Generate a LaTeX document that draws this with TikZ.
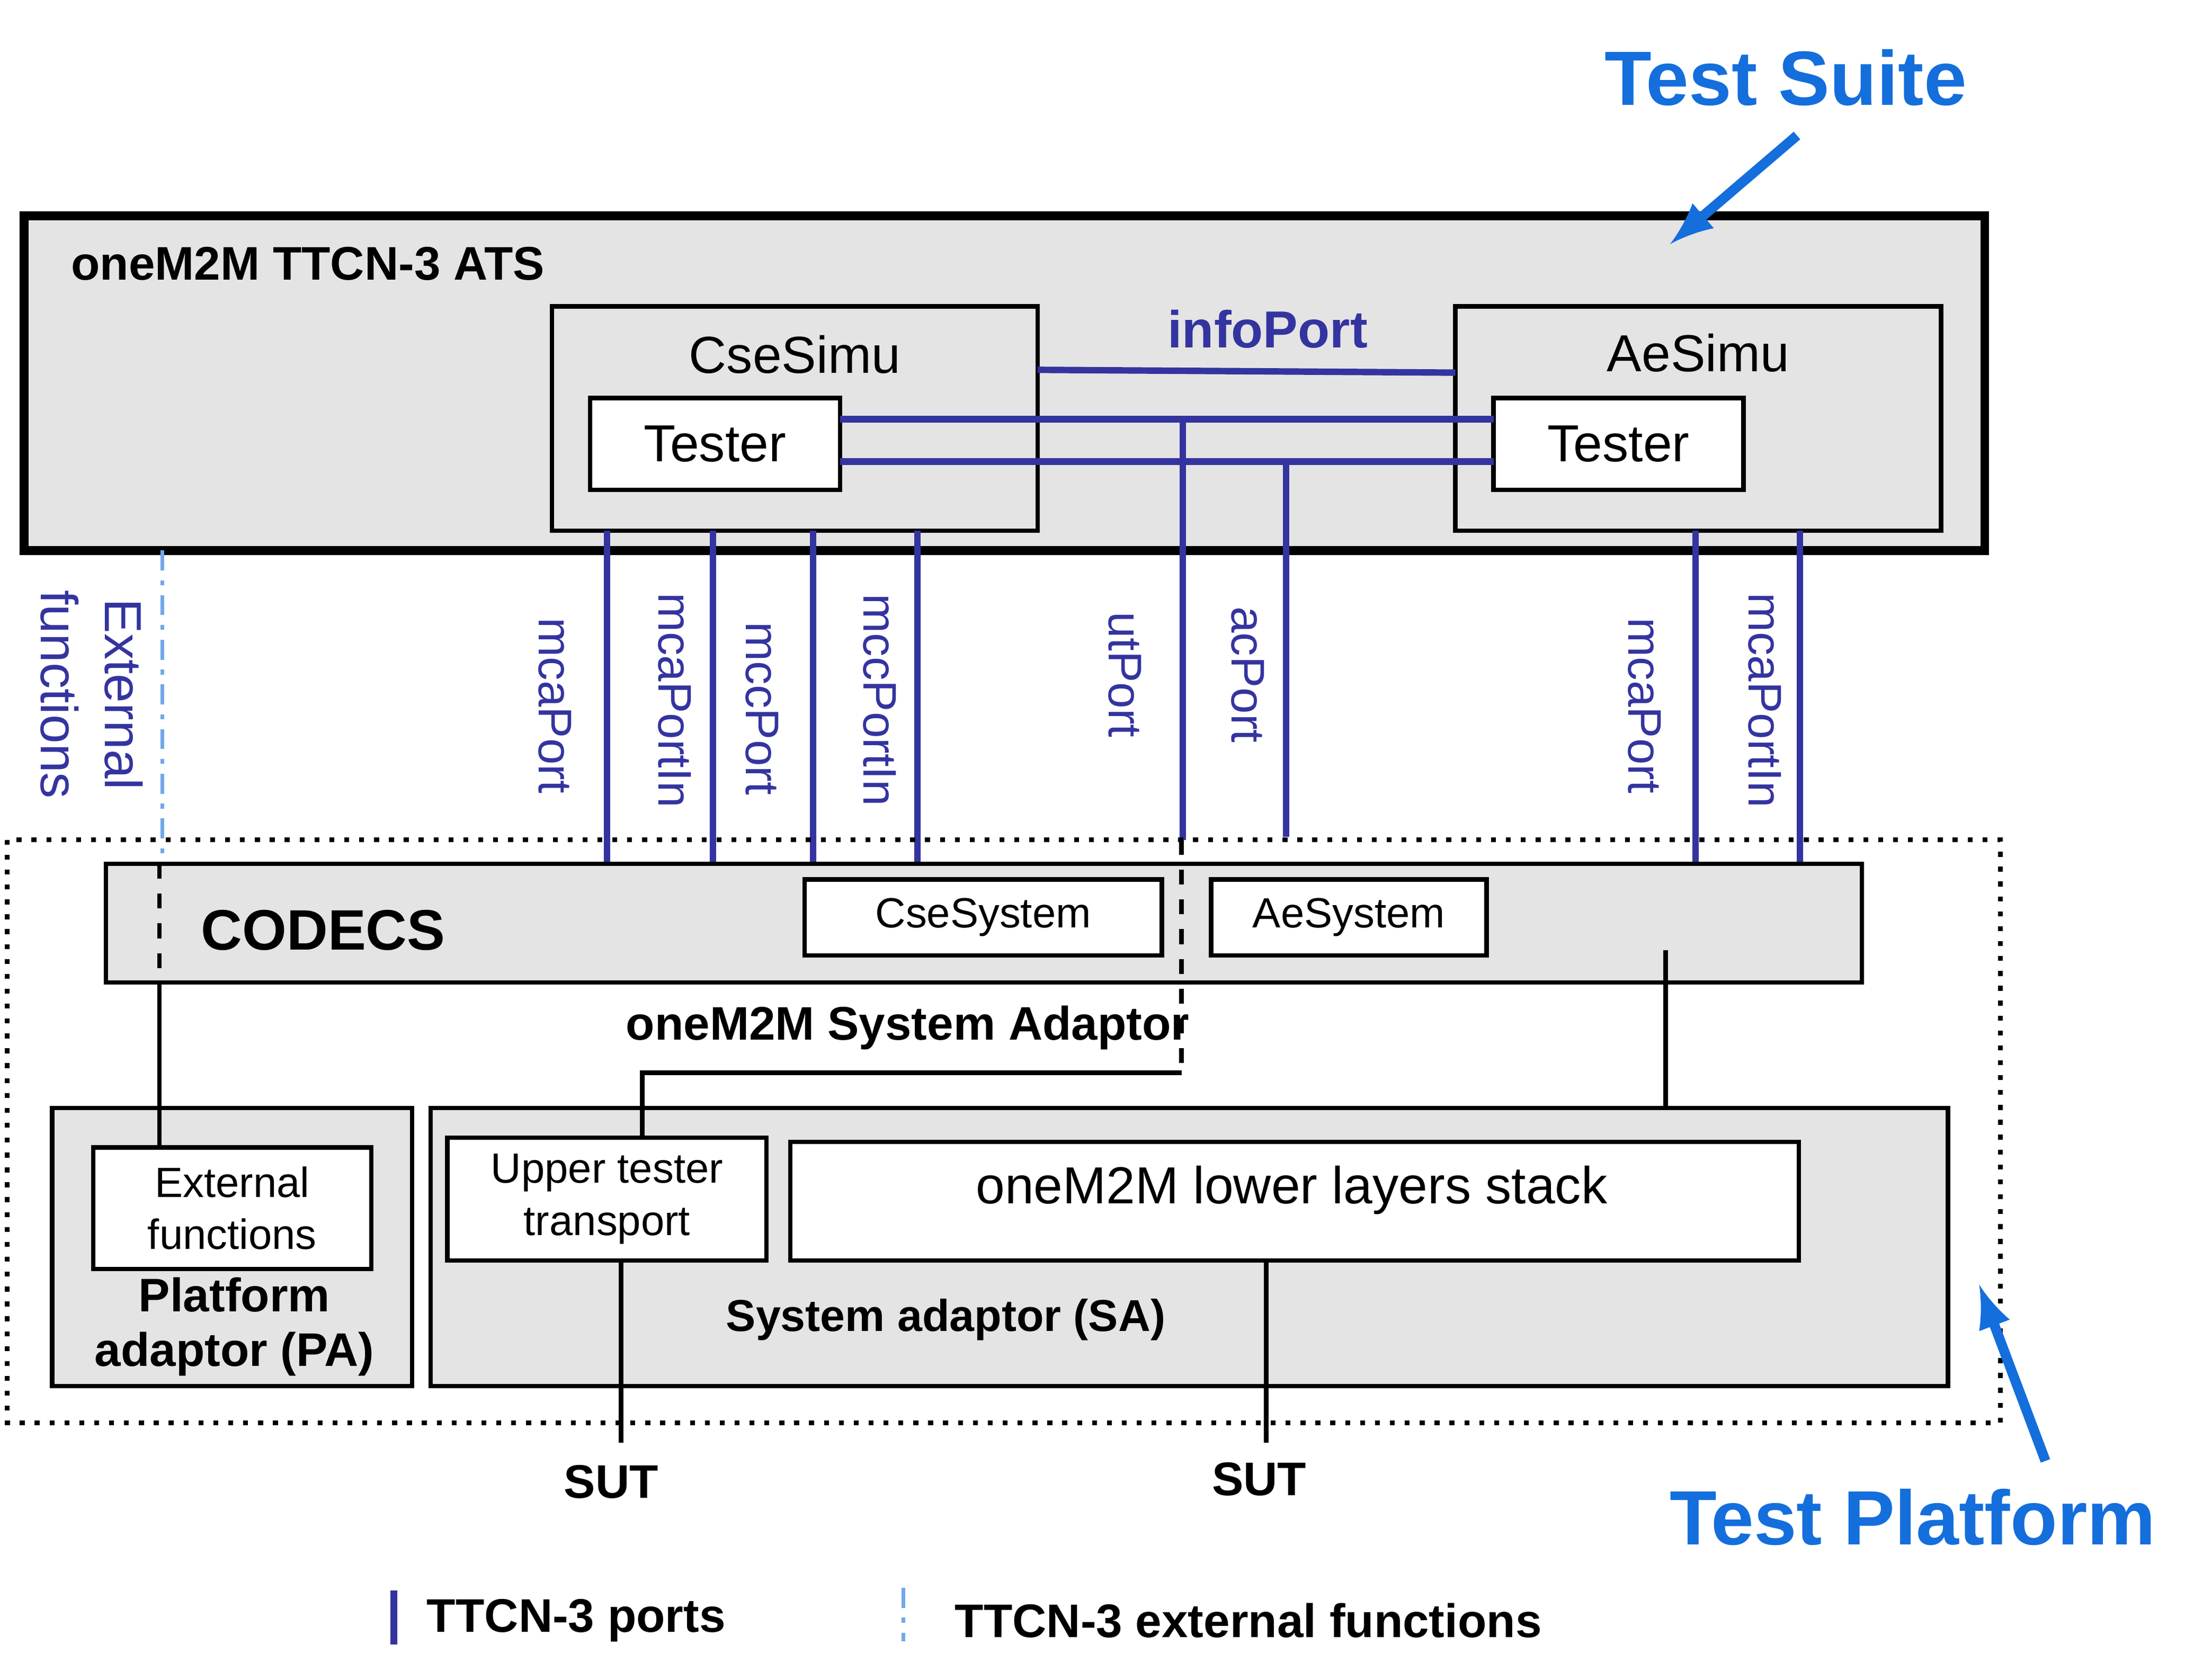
\documentclass[tikz,border=0pt]{standalone}
\usepackage{fontspec}
\setmainfont{Liberation Sans}
\begin{document}
\definecolor{pb}{RGB}{52,52,160}
\definecolor{tb}{RGB}{20,110,220}
\definecolor{gbox}{RGB}{228,228,228}
\begin{tikzpicture}[x=0.01cm,y=-0.01cm,
  gray box/.style={draw=black,fill=gbox,line width=0.9pt},
  white box/.style={draw=black,fill=white,line width=0.9pt},
  port/.style={draw=pb,line width=1.3pt},
  plab/.style={text=pb,font=\fontsize{9.5}{11}\selectfont,rotate=-90},
  bt/.style={font=\bfseries\fontsize{9.5}{11}\selectfont},
  big/.style={text=tb,font=\bfseries\fontsize{15.5}{18}\selectfont},
  barrow/.style={draw=tb,line width=2pt,-{latex}}]
\useasboundingbox (0,0) rectangle (1567,1190);
% ATS
\draw[fill=gbox,line width=1.8pt] (17,153) rectangle (1406,390);
\node[bt,anchor=west] (ats) at (38,187) {oneM2M TTCN-3 ATS};
\draw[gray box] (391,217) rectangle (735,376);
\draw[gray box] (1031,217) rectangle (1375,376);
\node[font=\fontsize{10.5}{12}\selectfont] (csel) at (563,251) {CseSimu};
\node[font=\fontsize{10.5}{12}\selectfont] (ael) at (1203,250) {AeSimu};
\node[white box,minimum width=1.77cm,minimum height=0.65cm,font=\fontsize{10.5}{12}\selectfont] (t1) at (506.5,314.5) {Tester};
\node[white box,minimum width=1.77cm,minimum height=0.65cm,font=\fontsize{10.5}{12}\selectfont] (t2) at (1146.5,314.5) {Tester};
\coordinate (ip1) at (735,262); \coordinate (ip2) at (1031,264);
\draw[port] (ip1) -- (ip2);
\node[text=pb,font=\bfseries\fontsize{10.5}{12}\selectfont] (ipl) at (898,233) {infoPort};
\draw[port] (595,297) -- (1058,297);
\draw[port] (595,327) -- (1058,327);
\draw[port] (838,297) -- (838,595);
\draw[port] (911,327) -- (911,593);
\foreach \x in {430,505,576,650,1201,1275}{\draw[port] (\x,376) -- (\x,612);}
\node[plab] (l1) at (393,500) {mcaPort};
\node[plab] (l2) at (478,496) {mcaPortIn};
\node[plab] (l3) at (540,502) {mccPort};
\node[plab] (l4) at (623,496) {mccPortIn};
\node[plab] (l5) at (797,478) {utPort};
\node[plab] (l6) at (884,478) {acPort};
\node[plab] (l7) at (1165,500) {mcaPort};
\node[plab] (l8) at (1250,496) {mcaPortIn};
\node[plab,align=center,font=\fontsize{10.5}{13}\selectfont] (ef) at (65,492) {External\\functions};
\draw[tb!60,dash pattern=on 4pt off 2pt on 1pt off 2pt,line width=0.8pt] (115,390) -- (115,612);
% platform
\draw[dotted,line width=1pt] (5,595) rectangle (1417,1008);
\draw[gray box] (75,612) rectangle (1319,696);
\node[anchor=west,font=\bfseries\fontsize{11.5}{13}\selectfont] (codecs) at (130,659) {CODECS};
\node[white box,minimum width=2.53cm,minimum height=0.54cm,font=\fontsize{8.5}{10}\selectfont] (cs) at (696.5,650) {CseSystem};
\node[white box,minimum width=1.95cm,minimum height=0.54cm,font=\fontsize{8.5}{10}\selectfont] (as) at (955.5,650) {AeSystem};
\node[bt] (sa1) at (643,728) {oneM2M System Adaptor};
\draw[gray box] (37,785) rectangle (292,982);
\draw[gray box] (305,785) rectangle (1380,982);
\node[white box,minimum width=1.97cm,minimum height=0.86cm,align=center,font=\fontsize{8.5}{10.5}\selectfont] (efb) at (164.5,856) {External\\functions};
\node[bt,align=center] (pa) at (166,940) {Platform\\adaptor (PA)};
\node[white box,minimum width=2.26cm,minimum height=0.87cm,align=center,font=\fontsize{8.5}{10.5}\selectfont] (ut) at (430,849.5) {Upper tester\\transport};
\node[white box,minimum width=7.14cm,minimum height=0.84cm] (ll) at (917,851) {};
\node[font=\fontsize{10.5}{12}\selectfont] (llt) at (915,843) {oneM2M lower layers stack};
\node[font=\bfseries\fontsize{9}{11}\selectfont] (sa) at (670,935) {System adaptor (SA)};
\draw[dashed,line width=0.9pt] (113,612) -- (113,696);
\draw[line width=0.9pt] (113,696) -- (efb.north -| 113,0);
\draw[dashed,line width=0.9pt] (837,595) -- (837,760);
\draw[line width=0.9pt] (837,760) -- (455,760) -- (ut.north -| 455,0);
\draw[line width=0.9pt] (1180,673) -- (1180,785);
\coordinate (s1) at (440,1022); \coordinate (s2) at (897,1022);
\draw[line width=0.9pt] (ut.south -| 440,0) -- (s1);
\draw[line width=0.9pt] (ll.south -| 897,0) -- (s2);
\node[bt] (sut1) at (433,1050) {SUT};
\node[bt] (sut2) at (892,1048) {SUT};
% labels
\node[big] (ts) at (1265,55) {Test Suite};
\draw[barrow] (1273,96) -- (1183,173);
\node[big] (tp) at (1355,1075) {Test Platform};
\draw[barrow] (1449,1035) -- (1402,910);
% legend
\draw[port] (279,1127) -- (279,1165);
\node[bt,anchor=west] (lg1) at (290,1148) {TTCN-3 ports};
\draw[tb!60,dash pattern=on 4pt off 2pt on 1pt off 2pt,line width=0.8pt] (640,1125) -- (640,1163);
\node[bt,anchor=west] (lg2) at (664,1148) {TTCN-3 external functions};
\end{tikzpicture}
\end{document}
